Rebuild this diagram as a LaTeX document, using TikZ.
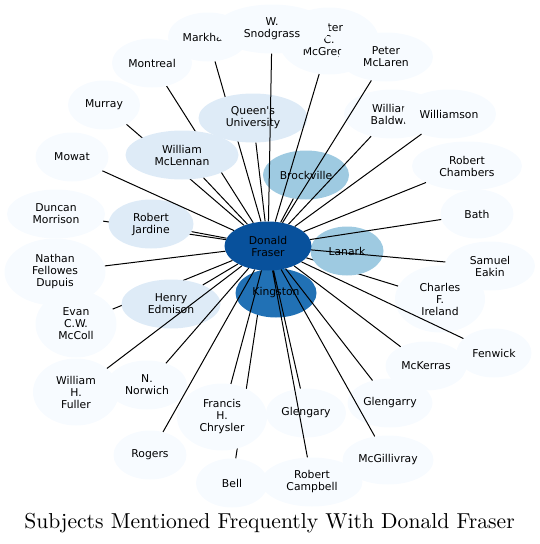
\documentclass[tikz,border=0pt]{standalone}
\usepackage{fontspec}
\usetikzlibrary{shapes.geometric}

\newfontfamily\labelfont{DejaVu Sans}
\newfontfamily\titlefont{lmroman10-regular}[Extension=.otf]

\definecolor{blues1}{HTML}{F7FBFF}
\definecolor{blues2}{HTML}{DEEBF7}
\definecolor{blues3}{HTML}{9ECAE1}
\definecolor{blues4}{HTML}{2171B5}
\definecolor{blues5}{HTML}{08519C}

\pgfdeclarelayer{under}
\pgfdeclarelayer{over}
\pgfsetlayers{under,main,over}

\begin{document}
\begin{tikzpicture}
[
	x=1pt, y=-1pt,
	subject/.style={ellipse,fill=blues1,inner sep=1pt,align=center,minimum height=49pt,
		font=\labelfont\fontsize{10.8}{12}\selectfont},
	tall/.style={minimum height=67pt},
	near/.style={subject,fill=blues2},
	nearer/.style={subject,fill=blues3},
	link/.style={line width=1pt}
]
	\useasboundingbox (0,0) rectangle (539,544);

	% outer ring
	\node[subject,minimum width=80pt] (montreal) at (152,63) {Montreal};
	\node[subject,minimum width=80pt] (markham) at (208,37) {Markham};
	\node[subject,tall,minimum width=100pt] (mcgregor) at (329,41) {Peter\\C.\\McGregor};
	\node[subject,minimum width=114pt] (snodgrass) at (272,29) {W.\\Snodgrass};
	\node[subject,minimum width=94pt] (mclaren) at (386,57) {Peter\\McLaren};
	\node[subject,minimum width=72pt] (murray) at (104,105) {Murray};
	\node[subject,minimum width=96pt] (baldwin) at (392,114) {William\\Baldwin};
	\node[subject,minimum width=94pt] (williamson) at (449,114) {Williamson};
	\node[subject,minimum width=73pt] (mowat) at (72,157) {Mowat};
	\node[subject,minimum width=110pt] (chambers) at (467,166) {Robert\\Chambers};
	\node[subject,minimum width=98pt] (morrison) at (56,214) {Duncan\\Morrison};
	\node[subject,minimum width=73pt] (bath) at (477,214) {Bath};
	\node[subject,tall,minimum width=101pt] (dupuis) at (55,272) {Nathan\\Fellowes\\Dupuis};
	\node[subject,minimum width=90pt] (eakin) at (490,266) {Samuel\\Eakin};
	\node[subject,tall,minimum width=81pt] (mccoll) at (76,324) {Evan\\C.W.\\McColl};
	\node[subject,tall,minimum width=90pt] (ireland) at (440,299) {Charles\\F.\\Ireland};
	\node[subject,minimum width=75pt] (fenwick) at (494,353) {Fenwick};
	\node[subject,tall,minimum width=86pt] (fuller) at (76,392) {William\\H.\\Fuller};
	\node[subject,minimum width=80pt] (norwich) at (147,385) {N.\\Norwich};
	\node[subject,minimum width=81pt] (mckerras) at (426,366) {McKerras};
	\node[subject,tall,minimum width=90pt] (chrysler) at (222,417) {Francis\\H.\\Chrysler};
	\node[subject,minimum width=80pt] (glengary) at (306,413) {Glengary};
	\node[subject,minimum width=85pt] (glengarry) at (390,403) {Glengarry};
	\node[subject,minimum width=73pt] (rogers) at (150,455) {Rogers};
	\node[subject,minimum width=91pt] (mcgillivray) at (388,460) {McGillivray};
	\node[subject,minimum width=72pt] (bell) at (232,483) {Bell};
	\node[subject,minimum width=101pt] (campbell) at (312,482) {Robert\\Campbell};

	% inner ring
	\node[near,minimum width=109pt] (queens) at (253,118) {Queen's\\University};
	\node[near,minimum width=113pt] (mclennan) at (182,155) {William\\McLennan};
	\node[near,minimum width=85pt] (jardine) at (151,224) {Robert\\Jardine};
	\node[near,minimum width=99pt] (edmison) at (171,304) {Henry\\Edmison};
	\node[nearer,minimum width=86pt] (brockville) at (306,175) {Brockville};
	\node[nearer,minimum width=73pt] (lanark) at (347,251) {Lanark};
	\node[subject,fill=blues4,minimum width=81pt] (kingston) at (276,293) {Kingston};
	\node[subject,fill=blues5,minimum width=87pt] (fraser) at (268,246) {Donald\\Fraser};

	% links hidden behind the inner ring
	\begin{pgfonlayer}{under}
	\draw[link]
		(fraser) -- (markham)
		(fraser) -- (montreal)
		(fraser) -- (murray)
		(fraser) -- (morrison)
		(fraser) -- (mccoll)
		(fraser) -- (bell)
		(fraser) -- (ireland);
	\end{pgfonlayer}

	% links on top
	\begin{pgfonlayer}{over}
	\draw[link]
		(fraser) -- (snodgrass)
		(fraser) -- (mcgregor)
		(fraser) -- (mclaren)
		(fraser) -- (baldwin)
		(fraser) -- (williamson)
		(fraser) -- (chambers)
		(fraser) -- (bath)
		(fraser) -- (eakin)
		(fraser) -- (fenwick)
		(fraser) -- (mckerras)
		(fraser) -- (glengarry)
		(fraser) -- (mcgillivray)
		(fraser) -- (campbell)
		(fraser) -- (glengary)
		(fraser) -- (chrysler)
		(fraser) -- (rogers)
		(fraser) -- (norwich)
		(fraser) -- (fuller)
		(fraser) -- (dupuis)
		(fraser) -- (mowat)
		(fraser) -- (queens)
		(fraser) -- (mclennan)
		(fraser) -- (jardine)
		(fraser) -- (edmison)
		(fraser) -- (brockville);
	\end{pgfonlayer}

	\node (title) at (269.5,523) {\titlefont\fontsize{21.6}{26}\selectfont Subjects Mentioned Frequently With Donald Fraser};

\end{tikzpicture}
\end{document}
